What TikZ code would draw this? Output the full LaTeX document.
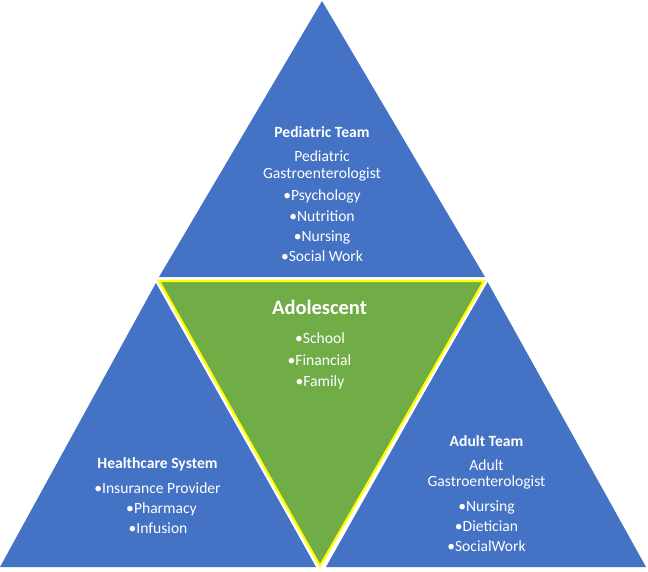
\documentclass[tikz,border=0pt]{standalone}
\usepackage{fontspec}
\setmainfont{Carlito}
\definecolor{tblue}{HTML}{4472C4}
\definecolor{tgreen}{HTML}{70AD47}
\definecolor{tyellow}{HTML}{FFFF00}
\begin{document}
\begin{tikzpicture}[x=1pt,y=-1pt,
  lbl/.style={text=white, font=\fontsize{15.6}{18}\selectfont, anchor=base, inner sep=0pt},
  ttl/.style={lbl, font=\fontsize{15.6}{18}\selectfont\bfseries},
  big/.style={lbl, font=\fontsize{20.5}{24}\selectfont\bfseries},
  bluetri/.style={fill=tblue}]
\useasboundingbox (0,0) rectangle (648,571);
\fill[white] (0,0) rectangle (648,571);
% corners
\coordinate (tA) at (322,1);
\coordinate (tL) at (159,277);
\coordinate (tR) at (485,277);
\coordinate (lA) at (157,281);
\coordinate (lL) at (0,567);
\coordinate (lR) at (316,567);
\coordinate (rA) at (487,281);
\coordinate (rL) at (326,567);
\coordinate (rR) at (646,567);
\coordinate (gL) at (159,281);
\coordinate (gR) at (484,281);
\coordinate (gB) at (320,566);
% blue triangles
\fill[bluetri] (tA) -- (tL) -- (tR) -- cycle;
\fill[bluetri] (lA) -- (lL) -- (lR) -- cycle;
\fill[bluetri] (rA) -- (rL) -- (rR) -- cycle;
% green triangle
\draw[white, line width=7pt, line join=miter] (gL) -- (gR) -- (gB) -- cycle;
\fill[tgreen] (gL) -- (gR) -- (gB) -- cycle;
\draw[tyellow, line width=2.2pt, line join=miter] (gL) -- (gR) -- (gB) -- cycle;
% top texts
\node[ttl] (pt) at (322,137) {Pediatric Team};
\node[lbl] (p1) at (322,161) {Pediatric};
\node[lbl] (p2) at (322,178) {Gastroenterologist};
\node[lbl] (p3) at (322,200) {•Psychology};
\node[lbl] (p4) at (322,221.5) {•Nutrition};
\node[lbl] (p5) at (322,241.5) {•Nursing};
\node[lbl] (p6) at (322,261.5) {•Social Work};
% middle texts
\node[big] (ad) at (319.5,314) {Adolescent};
\node[lbl] (a1) at (320,343.3) {•School};
\node[lbl] (a2) at (319.5,365) {•Financial};
\node[lbl] (a3) at (320,386.7) {•Family};
% left texts
\node[ttl] (ht) at (157.5,468.3) {Healthcare System};
\node[lbl] (h1) at (157.5,493.3) {•Insurance Provider};
\node[lbl] (h2) at (161.5,513.3) {•Pharmacy};
\node[lbl] (h3) at (158,533.3) {•Infusion};
% right texts
\node[ttl] (at) at (486.5,446) {Adult Team};
\node[lbl] (r1) at (486.5,470) {Adult};
\node[lbl] (r2) at (486.5,486.7) {Gastroenterologist};
\node[lbl] (r3) at (486.5,511.7) {•Nursing};
\node[lbl] (r4) at (486.5,531.7) {•Dietician};
\node[lbl] (r5) at (486.5,551.7) {•SocialWork};
\end{tikzpicture}
\end{document}
